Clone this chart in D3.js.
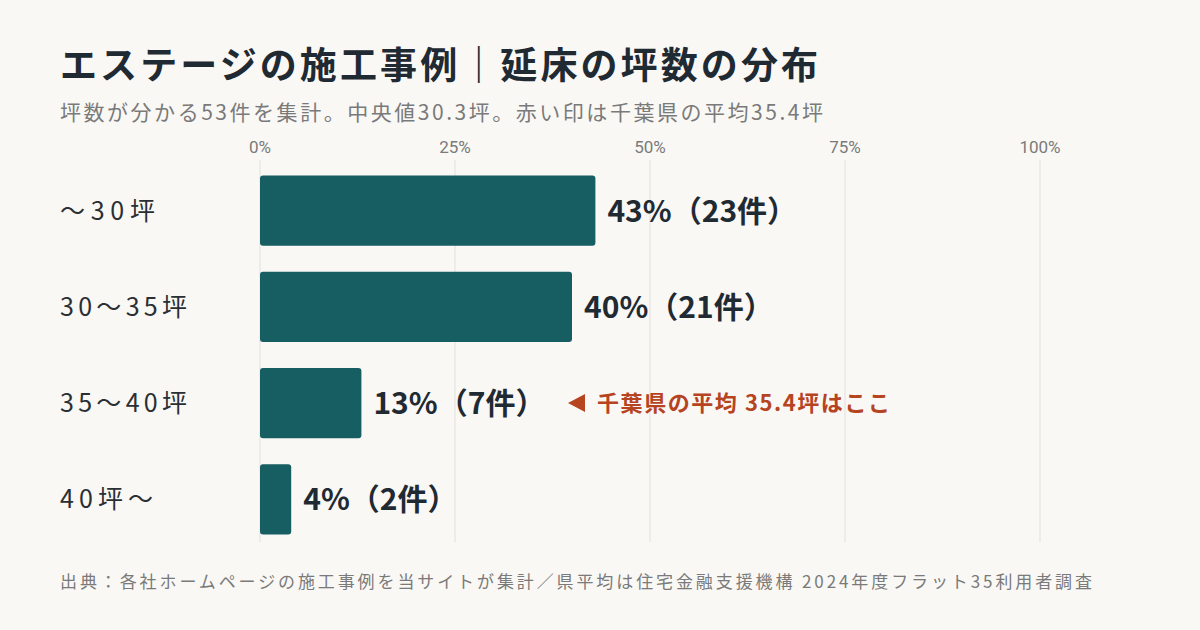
<!DOCTYPE html>
<html><head><meta charset="utf-8">
<script src="https://cdn.jsdelivr.net/npm/d3@7"></script>
<style>body{margin:0;background:#f9f8f5;font-family:"Noto Sans CJK JP","Noto Sans",sans-serif;}</style>
</head><body><svg id="c" width="1200" height="630"></svg>
<script>
const categories=["〜30坪","30〜35坪","35〜40坪","40坪〜"];
const percents=[43,40,13,4];
const counts=[23,21,7,2];
const ticks=[0,25,50,75,100];
const svg=d3.select("#c");
svg.append("rect").attr("width",1200).attr("height",630).attr("fill","#f9f8f5");
const x=d3.scaleLinear().domain([0,100]).range([260,1040]);
const y=d3.scaleBand().domain(categories).range([163,547]).paddingInner(0.27).paddingOuter(0.13);
svg.append("text").attr("x",60).attr("y",79).attr("font-size",37).attr("font-weight",700).attr("fill","#1f2a33").attr("textLength",758).attr("lengthAdjust","spacing").text("エステージの施工事例｜延床の坪数の分布");
svg.append("text").attr("x",60).attr("y",120).attr("font-size",21).attr("fill","#7a7a7a").attr("textLength",763).attr("lengthAdjust","spacing").text("坪数が分かる53件を集計。中央値30.3坪。赤い印は千葉県の平均35.4坪");
ticks.forEach(t=>{
 svg.append("line").attr("x1",x(t)).attr("x2",x(t)).attr("y1",160).attr("y2",542).attr("stroke","#e2e0db").attr("stroke-width",1);
 svg.append("text").attr("x",x(t)).attr("y",153).attr("text-anchor","middle").attr("font-size",17).attr("fill","#7a7a7a").attr("font-family","Roboto").text(t+"%");
});
const catW=[95,127,127,93];
categories.forEach((c,i)=>{
 const yy=y(c),h=y.bandwidth();
 svg.append("rect").attr("x",x(0)).attr("y",yy).attr("width",x(percents[i])-x(0)).attr("height",h).attr("rx",3).attr("fill","#175e63");
 svg.append("text").attr("x",60).attr("y",yy+h/2+9).attr("font-size",25).attr("fill","#2a2f33").attr("textLength",catW[i]).attr("lengthAdjust","spacing").text(c);
 svg.append("text").attr("x",x(percents[i])+12).attr("y",yy+h/2+11).attr("font-size",30).attr("font-weight",700).attr("fill","#1f2a33").text(percents[i]+"%（"+counts[i]+"件）");
});
const ay=y(categories[2])+y.bandwidth()/2;
svg.append("path").attr("d",`M568,${ay} L585,${ay-9} L585,${ay+9} Z`).attr("fill","#b5441f");
svg.append("text").attr("x",597).attr("y",ay+8).attr("font-size",22).attr("font-weight",700).attr("fill","#b5441f").attr("textLength",293).attr("lengthAdjust","spacing").text("千葉県の平均 35.4坪はここ");
svg.append("text").attr("x",60).attr("y",588).attr("font-size",17).attr("fill","#7a7a7a").attr("textLength",1032).attr("lengthAdjust","spacing").text("出典：各社ホームページの施工事例を当サイトが集計／県平均は住宅金融支援機構 2024年度フラット35利用者調査");
</script></body></html>
